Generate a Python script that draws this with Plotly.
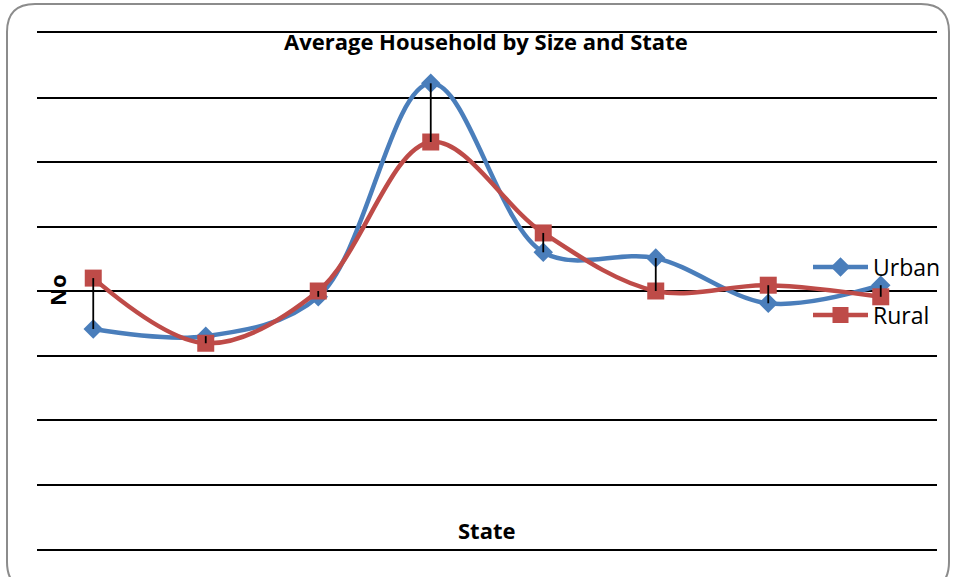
import plotly.graph_objects as go

# Average household size per state, urban vs rural
states = ["State 1", "State 2", "State 3", "State 4", "State 5", "State 6", "State 7", "State 8"]
urban = [3.41, 3.30, 3.91, 7.22, 4.60, 4.51, 3.81, 4.09]
rural = [4.20, 3.19, 4.00, 6.31, 4.90, 4.00, 4.09, 3.91]

BLUE = "#4A7EBB"
RED = "#BE4B48"
FONT = "Open Sans"

W, H = 953, 577
L, R, T, B = 37, 16, 33, 28
PW, PH = W - L - R, H - T - B


def px_x(px):
    return (px - L) / PW


def px_y(py):
    return (H - B - py) / PH


fig = go.Figure()

fig.add_trace(go.Scatter(
    x=states, y=urban, name="Urban", mode="lines+markers",
    line=dict(color=BLUE, width=4.5, shape="spline", smoothing=1),
    marker=dict(symbol="diamond", size=15, color=BLUE),
    legend="legend",
))
fig.add_trace(go.Scatter(
    x=states, y=rural, name="Rural", mode="lines+markers",
    line=dict(color=RED, width=4.5, shape="spline", smoothing=1),
    marker=dict(symbol="square", size=17, color=RED),
    legend="legend2",
))

# high-low connectors between the two series
hx, hy = [], []
for s, u, r in zip(states, urban, rural):
    hx += [s, s, None]
    hy += [u, r, None]
fig.add_trace(go.Scatter(
    x=hx, y=hy, mode="lines", showlegend=False, hoverinfo="skip",
    line=dict(color="black", width=1.8),
))

# rounded chart frame
x0, x1 = px_x(7), px_x(949)
y0, y1 = px_y(4), px_y(590)
rx, ry = 28 / PW, 28 / PH
path = (f"M {x0 + rx},{y0} L {x1 - rx},{y0} Q {x1},{y0} {x1},{y0 - ry} "
        f"L {x1},{y1 + ry} Q {x1},{y1} {x1 - rx},{y1} "
        f"L {x0 + rx},{y1} Q {x0},{y1} {x0},{y1 + ry} "
        f"L {x0},{y0 - ry} Q {x0},{y0} {x0 + rx},{y0} Z")
fig.add_shape(type="path", path=path, xref="paper", yref="paper",
              line=dict(color="#8c8c8c", width=2), layer="below")

text_font = dict(family=FONT, size=22, color="black")
fig.add_annotation(text="<b>Average Household by Size and State</b>",
                   x=px_x(486), y=px_y(41), xref="paper", yref="paper",
                   xanchor="center", yanchor="middle",
                   showarrow=False, font=text_font)
fig.add_annotation(text="<b>State</b>", x=px_x(487), y=px_y(530),
                   xref="paper", yref="paper", xanchor="center", yanchor="middle",
                   showarrow=False, font=text_font)
fig.add_annotation(text="<b>No</b>", x=px_x(57), y=px_y(290), textangle=-90,
                   xref="paper", yref="paper", xanchor="center", yanchor="middle",
                   showarrow=False, font=text_font)

legend_common = dict(xref="container", yref="container",
                     xanchor="left", yanchor="middle", bgcolor="rgba(0,0,0,0)",
                     borderwidth=0, itemwidth=55,
                     font=dict(family=FONT, size=23, color="black"))

fig.update_layout(
    width=W, height=H,
    margin=dict(l=L, r=R, t=T, b=B, autoexpand=False),
    paper_bgcolor="white", plot_bgcolor="white",
    font=dict(family=FONT, color="black"),
    xaxis=dict(type="category", range=[-0.5, 7.5], showticklabels=False,
               showgrid=False, zeroline=False, showline=True, mirror=True,
               linecolor="black", linewidth=2, ticks=""),
    yaxis=dict(range=[0, 8], dtick=1, showticklabels=False, showgrid=True,
               gridcolor="black", gridwidth=2, zeroline=False, showline=False,
               ticks=""),
    legend=dict(x=808 / W, y=1 - 267 / H, **legend_common),
    legend2=dict(x=808 / W, y=1 - 315 / H, **legend_common),
)

fig.write_html("out.html")
